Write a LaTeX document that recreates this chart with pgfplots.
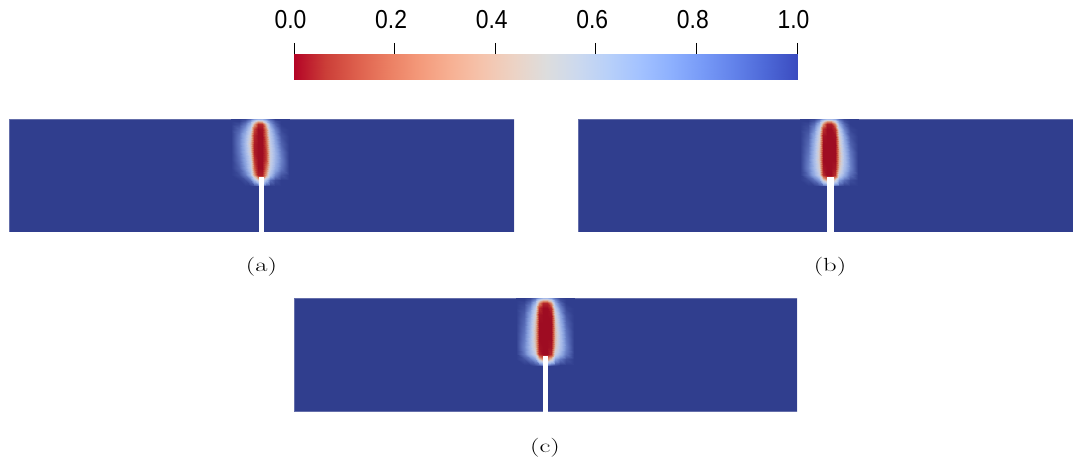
\documentclass[border=0pt]{standalone}
\usepackage{fontspec}
\usepackage{pgfplots}
\pgfplotsset{compat=1.18}
\newfontfamily\cbfont{Liberation Sans}
\definecolor{bgblue}{RGB}{48,62,142}
\pgfplotsset{
  colormap={cbar}{rgb255=(180,4,38) rgb255=(203,62,56) rgb255=(222,96,77) rgb255=(235,127,99) rgb255=(244,154,123) rgb255=(247,177,148) rgb255=(245,196,173) rgb255=(236,211,197) rgb255=(221,221,221) rgb255=(204,217,238) rgb255=(184,208,249) rgb255=(163,194,255) rgb255=(141,176,254) rgb255=(119,154,247) rgb255=(98,130,234) rgb255=(77,104,215) rgb255=(59,76,192)},
  colormap={panel}{rgb255=(158,12,34) rgb255=(185,45,45) rgb255=(205,95,72) rgb255=(218,140,110) rgb255=(220,180,165) rgb255=(210,205,210) rgb255=(190,202,232) rgb255=(165,185,232) rgb255=(130,155,218) rgb255=(90,110,185) rgb255=(48,62,142)},
  panelax/.style={scale only axis, height=113pt, ymin=0, ymax=113, xmin=0, hide axis, clip=true,
    colormap name=panel, point meta min=0, point meta max=1},
}
\begin{document}
\begin{tikzpicture}
\path[use as bounding box] (0,0) rectangle (1073pt,-462pt);
% colorbar
\begin{axis}[at={(294pt,-80pt)}, anchor=south west, scale only axis, width=503pt, height=26pt,
  xmin=0, xmax=1, ymin=0, ymax=1, colormap name=cbar, point meta min=0, point meta max=1,
  axis line style={draw=none}, ytick=\empty, xtick={0,0.2,0.4,0.6,0.8,1},
  xticklabels={0.0,0.2,0.4,0.6,0.8,1.0}, xtick pos=top, xticklabel pos=top,
  major tick length=18pt, tick align=center, xtick style={black, line width=0.7pt, yshift=2pt},
  xticklabel style={font=\cbfont\fontsize{26}{30}\selectfont, anchor=base, inner sep=0pt, xscale=0.88, xshift=-4pt, yshift=16pt}]
\addplot[surf, shader=interp, point meta=x, mesh/cols=9] coordinates {
(0,0) (0.125,0) (0.25,0) (0.375,0) (0.5,0) (0.625,0) (0.75,0) (0.875,0) (1,0)
(0,1) (0.125,1) (0.25,1) (0.375,1) (0.5,1) (0.625,1) (0.75,1) (0.875,1) (1,1)};
\end{axis}
% panel (a)
\begin{axis}[panelax, at={(9pt,-232pt)}, anchor=south west, width=505pt, xmax=505]
\addplot[fill=bgblue, draw=bgblue!75!white, line width=0.6pt] coordinates {(0,0) (505,0) (505,113) (0,113)} -- cycle;
\addplot[surf, shader=interp, mesh/cols=12, point meta=explicit] coordinates {
(222,46)[1] (230,46)[1] (236,46)[1] (241,46)[1] (245,46)[0.97] (249,46)[0.93] (253,46)[0.93] (257,46)[0.97] (261,46)[1] (266,46)[1] (272,46)[1] (280,46)[1]
(222,52)[1] (230,52)[1] (236,52)[0.97] (241,52)[0.9] (245,52)[0.7] (249,52)[0.5] (253,52)[0.5] (257,52)[0.7] (261,52)[0.9] (266,52)[0.97] (272,52)[1] (280,52)[1]
(222,57)[1] (230,57)[0.97] (236,57)[0.88] (241,57)[0.72] (245,57)[0.35] (249,57)[0.05] (253,57)[0.05] (257,57)[0.35] (261,57)[0.68] (266,57)[0.85] (272,57)[0.95] (280,57)[1]
(222,64)[1] (230,64)[0.93] (236,64)[0.8] (241,64)[0.62] (245,64)[0.2] (249,64)[0] (253,64)[0] (257,64)[0.25] (261,64)[0.58] (266,64)[0.75] (272,64)[0.88] (280,64)[1]
(222,72)[1] (230,72)[0.9] (236,72)[0.76] (241,72)[0.58] (245,72)[0.12] (249,72)[0] (253,72)[0] (257,72)[0.15] (261,72)[0.55] (266,72)[0.72] (272,72)[0.86] (280,72)[1]
(222,80)[1] (230,80)[0.88] (236,80)[0.72] (241,80)[0.5] (245,80)[0.05] (249,80)[0] (253,80)[0] (257,80)[0.15] (261,80)[0.55] (266,80)[0.72] (272,80)[0.88] (280,80)[1]
(222,88)[1] (230,88)[0.87] (236,88)[0.7] (241,88)[0.45] (245,88)[0.05] (249,88)[0] (253,88)[0] (257,88)[0.2] (261,88)[0.58] (266,88)[0.76] (272,88)[0.92] (280,88)[1]
(222,96)[1] (230,96)[0.88] (236,96)[0.72] (241,96)[0.5] (245,96)[0.08] (249,96)[0] (253,96)[0] (257,96)[0.25] (261,96)[0.62] (266,96)[0.8] (272,96)[0.95] (280,96)[1]
(222,103)[1] (230,103)[0.92] (236,103)[0.8] (241,103)[0.6] (245,103)[0.15] (249,103)[0] (253,103)[0.02] (257,103)[0.3] (261,103)[0.68] (266,103)[0.86] (272,103)[0.98] (280,103)[1]
(222,108)[1] (230,108)[0.97] (236,108)[0.88] (241,108)[0.72] (245,108)[0.35] (249,108)[0.08] (253,108)[0.1] (257,108)[0.45] (261,108)[0.78] (266,108)[0.92] (272,108)[1] (280,108)[1]
(222,111)[1] (230,111)[1] (236,111)[0.94] (241,111)[0.82] (245,111)[0.6] (249,111)[0.4] (253,111)[0.45] (257,111)[0.68] (261,111)[0.86] (266,111)[0.96] (272,111)[1] (280,111)[1]
(222,113)[1] (230,113)[1] (236,113)[0.98] (241,113)[0.9] (245,113)[0.78] (249,113)[0.72] (253,113)[0.72] (257,113)[0.82] (261,113)[0.92] (266,113)[1] (272,113)[1] (280,113)[1]};
\addplot[fill=white, draw=none] coordinates {(250,-2) (255,-2) (255,55) (250,55)} -- cycle;
\end{axis}
% panel (b)
\begin{axis}[panelax, at={(578pt,-232pt)}, anchor=south west, width=495pt, xmax=495]
\addplot[fill=bgblue, draw=bgblue!75!white, line width=0.6pt] coordinates {(0,0) (505,0) (505,113) (0,113)} -- cycle;
\addplot[surf, shader=interp, mesh/cols=12, point meta=explicit] coordinates {
(222,46)[1] (230,46)[1] (236,46)[1] (241,46)[0.97] (245,46)[0.93] (249,46)[0.88] (253,46)[0.88] (257,46)[0.93] (261,46)[0.97] (266,46)[1] (272,46)[1] (280,46)[1]
(222,52)[1] (230,52)[0.97] (236,52)[0.9] (241,52)[0.8] (245,52)[0.5] (249,52)[0.35] (253,52)[0.35] (257,52)[0.5] (261,52)[0.8] (266,52)[0.9] (272,52)[0.97] (280,52)[1]
(222,57)[1] (230,57)[0.9] (236,57)[0.75] (241,57)[0.58] (245,57)[0.1] (249,57)[0] (253,57)[0] (257,57)[0.1] (261,57)[0.58] (266,57)[0.75] (272,57)[0.9] (280,57)[1]
(222,64)[1] (230,64)[0.86] (236,64)[0.7] (241,64)[0.5] (245,64)[0.03] (249,64)[0] (253,64)[0] (257,64)[0.03] (261,64)[0.45] (266,64)[0.68] (272,64)[0.85] (280,64)[1]
(222,72)[1] (230,72)[0.87] (236,72)[0.68] (241,72)[0.45] (245,72)[0] (249,72)[0] (253,72)[0] (257,72)[0] (261,72)[0.4] (266,72)[0.66] (272,72)[0.86] (280,72)[1]
(222,80)[1] (230,80)[0.89] (236,80)[0.7] (241,80)[0.45] (245,80)[0] (249,80)[0] (253,80)[0] (257,80)[0] (261,80)[0.4] (266,80)[0.68] (272,80)[0.88] (280,80)[1]
(222,88)[1] (230,88)[0.91] (236,88)[0.72] (241,88)[0.48] (245,88)[0] (249,88)[0] (253,88)[0] (257,88)[0] (261,88)[0.45] (266,88)[0.72] (272,88)[0.92] (280,88)[1]
(222,96)[1] (230,96)[0.93] (236,96)[0.76] (241,96)[0.52] (245,96)[0.02] (249,96)[0] (253,96)[0] (257,96)[0.02] (261,96)[0.5] (266,96)[0.77] (272,96)[0.95] (280,96)[1]
(222,103)[1] (230,103)[0.96] (236,103)[0.83] (241,103)[0.6] (245,103)[0.1] (249,103)[0] (253,103)[0] (257,103)[0.1] (261,103)[0.6] (266,103)[0.85] (272,103)[0.98] (280,103)[1]
(222,108)[1] (230,108)[0.98] (236,108)[0.9] (241,108)[0.72] (245,108)[0.3] (249,108)[0.05] (253,108)[0.05] (257,108)[0.3] (261,108)[0.74] (266,108)[0.91] (272,108)[1] (280,108)[1]
(222,111)[1] (230,111)[1] (236,111)[0.95] (241,111)[0.83] (245,111)[0.55] (249,111)[0.35] (253,111)[0.35] (257,111)[0.55] (261,111)[0.83] (266,111)[0.96] (272,111)[1] (280,111)[1]
(222,113)[1] (230,113)[1] (236,113)[0.98] (241,113)[0.9] (245,113)[0.76] (249,113)[0.68] (253,113)[0.68] (257,113)[0.76] (261,113)[0.9] (266,113)[0.98] (272,113)[1] (280,113)[1]};
\addplot[fill=white, draw=none] coordinates {(249,-2) (256,-2) (256,55) (249,55)} -- cycle;
\end{axis}
% panel (c)
\begin{axis}[panelax, at={(294pt,-411pt)}, anchor=south west, width=503pt, xmax=503]
\addplot[fill=bgblue, draw=bgblue!75!white, line width=0.6pt] coordinates {(0,0) (503,0) (503,113) (0,113)} -- cycle;
\addplot[surf, shader=interp, mesh/cols=12, point meta=explicit] coordinates {
(222,46)[1] (230,46)[1] (236,46)[1] (241,46)[0.97] (245,46)[0.93] (249,46)[0.86] (253,46)[0.86] (257,46)[0.93] (261,46)[0.97] (266,46)[1] (272,46)[1] (280,46)[1]
(222,52)[1] (230,52)[0.96] (236,52)[0.88] (241,52)[0.78] (245,52)[0.45] (249,52)[0.3] (253,52)[0.3] (257,52)[0.45] (261,52)[0.78] (266,52)[0.88] (272,52)[0.96] (280,52)[1]
(222,57)[1] (230,57)[0.88] (236,57)[0.72] (241,57)[0.55] (245,57)[0.08] (249,57)[0] (253,57)[0] (257,57)[0.08] (261,57)[0.55] (266,57)[0.72] (272,57)[0.88] (280,57)[1]
(222,64)[1] (230,64)[0.85] (236,64)[0.68] (241,64)[0.45] (245,64)[0.02] (249,64)[0] (253,64)[0] (257,64)[0.02] (261,64)[0.45] (266,64)[0.66] (272,64)[0.85] (280,64)[1]
(222,72)[1] (230,72)[0.87] (236,72)[0.68] (241,72)[0.42] (245,72)[0] (249,72)[0] (253,72)[0] (257,72)[0] (261,72)[0.42] (266,72)[0.66] (272,72)[0.87] (280,72)[1]
(222,80)[1] (230,80)[0.89] (236,80)[0.7] (241,80)[0.42] (245,80)[0] (249,80)[0] (253,80)[0] (257,80)[0] (261,80)[0.42] (266,80)[0.68] (272,80)[0.89] (280,80)[1]
(222,88)[1] (230,88)[0.91] (236,88)[0.72] (241,88)[0.45] (245,88)[0] (249,88)[0] (253,88)[0] (257,88)[0] (261,88)[0.45] (266,88)[0.72] (272,88)[0.92] (280,88)[1]
(222,96)[1] (230,96)[0.93] (236,96)[0.76] (241,96)[0.5] (245,96)[0.02] (249,96)[0] (253,96)[0] (257,96)[0.02] (261,96)[0.5] (266,96)[0.77] (272,96)[0.95] (280,96)[1]
(222,103)[1] (230,103)[0.96] (236,103)[0.83] (241,103)[0.6] (245,103)[0.1] (249,103)[0] (253,103)[0] (257,103)[0.1] (261,103)[0.6] (266,103)[0.85] (272,103)[0.98] (280,103)[1]
(222,108)[1] (230,108)[0.98] (236,108)[0.9] (241,108)[0.72] (245,108)[0.3] (249,108)[0.08] (253,108)[0.08] (257,108)[0.3] (261,108)[0.74] (266,108)[0.91] (272,108)[1] (280,108)[1]
(222,111)[1] (230,111)[1] (236,111)[0.95] (241,111)[0.83] (245,111)[0.55] (249,111)[0.4] (253,111)[0.4] (257,111)[0.55] (261,111)[0.83] (266,111)[0.96] (272,111)[1] (280,111)[1]
(222,113)[1] (230,113)[1] (236,113)[0.98] (241,113)[0.9] (245,113)[0.78] (249,113)[0.7] (253,113)[0.7] (257,113)[0.78] (261,113)[0.9] (266,113)[0.98] (272,113)[1] (280,113)[1]};
\addplot[fill=white, draw=none] coordinates {(249,-2) (254,-2) (254,55) (249,55)} -- cycle;
\end{axis}
% captions
\node[font=\fontsize{19}{23}\selectfont, xscale=1.4] at (261.5pt,-267pt) {(a)};
\node[font=\fontsize{19}{23}\selectfont, xscale=1.4] at (830pt,-267pt) {(b)};
\node[font=\fontsize{19}{23}\selectfont, xscale=1.4] at (545pt,-448pt) {(c)};
\end{tikzpicture}
\end{document}
